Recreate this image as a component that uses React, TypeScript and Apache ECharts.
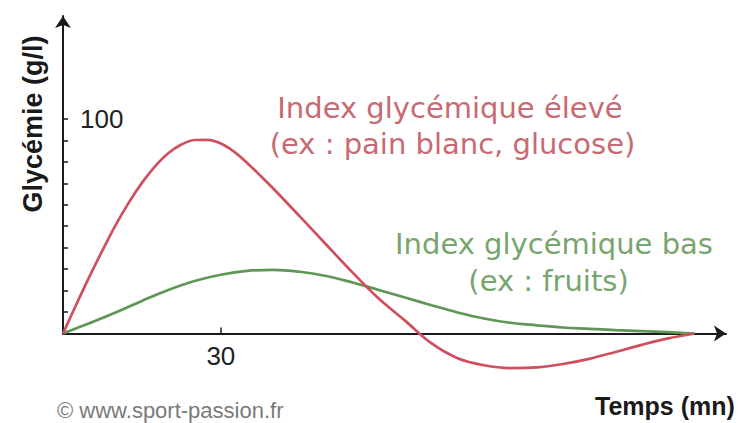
import { useEffect, useRef } from "react";
import * as echarts from "echarts";

// Time in minutes and glycaemia values
const highGiTime = [0, 2.5, 5, 7.5, 10, 12.5, 15, 17.5, 20, 22.5, 25, 27.5, 30, 32.5, 35, 37.5, 40, 45, 50, 55, 60, 65, 70, 75, 80, 85, 90, 95, 100, 105, 110, 115, 120];
const highGiValues = [0, 13.4, 26.4, 38.7, 50.5, 61, 70.2, 77.9, 84, 88.1, 90.2, 90.3, 88.6, 84.8, 79.5, 73.6, 67.5, 54.6, 41.5, 28.5, 16.3, 6, -4.5, -11.5, -14.8, -16.1, -15.8, -14.2, -11.8, -8.6, -5.3, -2.3, 0];
const lowGiTime = [0, 5, 10, 15, 20, 25, 30, 35, 40, 45, 50, 55, 60, 65, 70, 75, 80, 85, 90, 95, 100, 105, 110, 115, 120];
const lowGiValues = [0, 4.8, 9.8, 15.2, 20.3, 24.5, 27.4, 29.2, 29.7, 28.8, 26.8, 23.8, 20.3, 16.8, 13.2, 9.8, 7, 5, 3.8, 2.8, 2.2, 1.6, 1.1, 0.6, 0];

const yTickValues = [10, 20, 30, 40, 50, 60, 70, 80, 90, 100];
const yLabelValues = [100];
const xTickValues = [30];
const xLabelValues = [30];

const yAxisName = "Glycémie (g/l)";
const xAxisName = "Temps (mn)";
const highLabel = ["Index glycémique élevé", "(ex : pain blanc, glucose)"];
const lowLabel = ["Index glycémique bas", "(ex : fruits)"];
const credit = "© www.sport-passion.fr";

const AXIS = "#1a1a1a";
const RED = "#cf4f5f";
const GREEN = "#5e9656";

export default function App() {
  const ref = useRef<HTMLDivElement>(null);
  useEffect(() => {
    document.body.style.margin = "0";
    const chart = echarts.init(ref.current!, null, { renderer: "svg" });
    const pair = (t: number[], v: number[]) => t.map((x, i) => [x, v[i]]);
    chart.setOption({
      animation: false,
      backgroundColor: "#ffffff",
      grid: { left: 63, top: 16, width: 663, height: 317.5 },
      xAxis: {
        type: "value",
        min: 0,
        max: 126,
        axisLine: {
          show: true,
          onZero: false,
          lineStyle: { color: AXIS, width: 2 },
          symbol: ["none", "arrow"],
          symbolSize: [12, 12],
        },
        axisTick: {
          show: true,
          inside: true,
          length: 6,
          customValues: xTickValues,
          lineStyle: { color: AXIS, width: 1.5 },
        },
        axisLabel: {
          customValues: xLabelValues,
          fontSize: 26,
          color: "#222",
          margin: 9,
          fontFamily: "Liberation Sans",
        },
        splitLine: { show: false },
      },
      yAxis: {
        type: "value",
        min: 0,
        max: 148,
        axisLine: {
          show: true,
          onZero: false,
          lineStyle: { color: AXIS, width: 2 },
          symbol: ["none", "arrow"],
          symbolSize: [12, 12],
        },
        axisTick: {
          show: true,
          inside: true,
          length: 5,
          customValues: yTickValues,
          lineStyle: { color: AXIS, width: 1.5 },
        },
        axisLabel: {
          customValues: yLabelValues,
          inside: true,
          fontSize: 26,
          color: "#222",
          margin: 17,
          padding: [0, 0, 5, 0],
          fontFamily: "Liberation Sans",
        },
        splitLine: { show: false },
      },
      series: [
        {
          type: "line",
          data: pair(lowGiTime, lowGiValues),
          smooth: 0.4,
          showSymbol: false,
          clip: false,
          lineStyle: { color: GREEN, width: 2.7 },
          z: 2,
        },
        {
          type: "line",
          data: pair(highGiTime, highGiValues),
          smooth: 0.35,
          showSymbol: false,
          clip: false,
          lineStyle: { color: RED, width: 2.7 },
          z: 3,
        },
      ],
      graphic: [
        {
          type: "text",
          x: 32.5,
          y: 124,
          rotation: Math.PI / 2,
          style: {
            text: yAxisName,
            font: "bold 27px 'Liberation Sans'",
            fill: "#1a1a1a",
            textAlign: "center",
            textVerticalAlign: "middle",
          },
        },
        {
          type: "text",
          x: 595,
          y: 406,
          style: {
            text: xAxisName,
            font: "bold 25px 'Liberation Sans'",
            fill: "#1a1a1a",
            textAlign: "left",
            textVerticalAlign: "middle",
          },
        },
        {
          type: "text",
          x: 450,
          y: 107.5,
          style: { text: highLabel[0], font: "29px 'DejaVu Sans'", fill: "#c76a73", textAlign: "center", textVerticalAlign: "middle" },
        },
        {
          type: "text",
          x: 452.5,
          y: 144.2,
          style: { text: highLabel[1], font: "29px 'DejaVu Sans'", fill: "#c76a73", textAlign: "center", textVerticalAlign: "middle" },
        },
        {
          type: "text",
          x: 554,
          y: 244,
          style: { text: lowLabel[0], font: "29px 'DejaVu Sans'", fill: "#77a56d", textAlign: "center", textVerticalAlign: "middle" },
        },
        {
          type: "text",
          x: 548.5,
          y: 281,
          style: { text: lowLabel[1], font: "29px 'DejaVu Sans'", fill: "#77a56d", textAlign: "center", textVerticalAlign: "middle" },
        },
        {
          type: "text",
          x: 57,
          y: 410,
          style: { text: credit, font: "22px 'Liberation Sans'", fill: "#7a7a7a", textAlign: "left", textVerticalAlign: "middle" },
        },
      ],
    });
    return () => chart.dispose();
  }, []);
  return <div ref={ref} style={{ width: 741, height: 423, position: "absolute", left: 0, top: 0 }} />;
}
